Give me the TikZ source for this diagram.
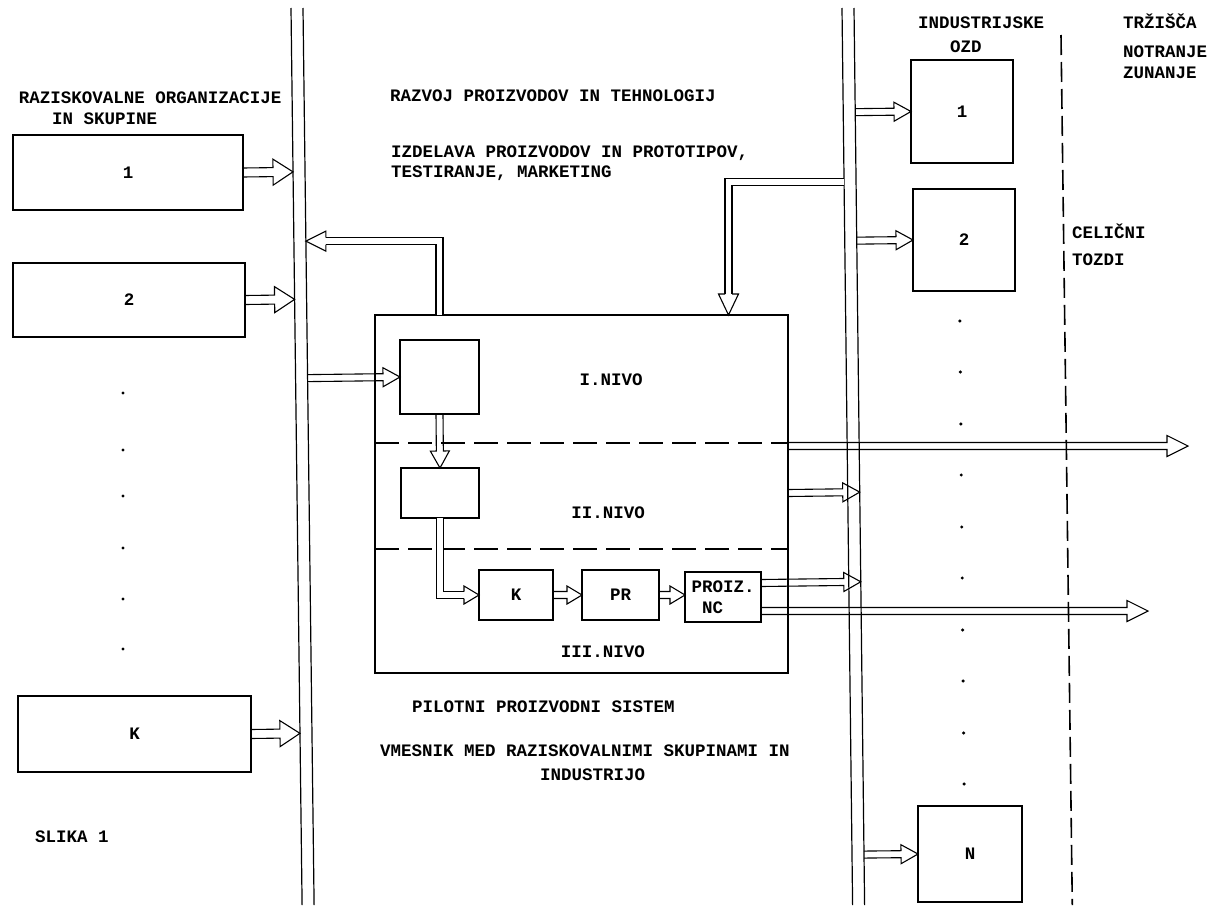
\documentclass[tikz,border=0pt]{standalone}
\usepackage{fontspec}
\setmainfont{Liberation Mono}
\usetikzlibrary{calc}
\newcommand\twf{\fontsize{17.5pt}{21pt}\selectfont\bfseries}
\begin{document}
\begin{tikzpicture}[x=1pt,y=-1pt,
  box/.style={draw, line width=1.5pt, inner sep=0pt, outer sep=0pt, font=\twf, align=center},
  rail/.style={line width=1.2pt},
  vdash/.style={line width=1.6pt, dash pattern=on 20pt off 7pt},
  lvl/.style={line width=1.3pt, dash pattern=on 24pt off 9pt},
  txt/.style={inner sep=0pt, outer sep=0pt, anchor=base west, font=\twf},
  ctxt/.style={inner sep=0pt, outer sep=0pt, anchor=base, font=\twf},
  aline/.style={line width=1.1pt, line join=miter},
  dbl/.style={line width=1.1pt, double=white, double distance=5.9pt},
  blk/.style n args={3}{line width=1.1pt, to path={
     ($(\tikztostart)!#1!90:(\tikztotarget)$)
     -- ($(\tikztotarget)!#3!(\tikztostart)!#1!90:(\tikztotarget)$)
     -- ($(\tikztotarget)!#3!(\tikztostart)!#2!90:(\tikztotarget)$)
     -- (\tikztotarget)
     -- ($(\tikztotarget)!#3!(\tikztostart)!#2!-90:(\tikztotarget)$)
     -- ($(\tikztotarget)!#3!(\tikztostart)!#1!-90:(\tikztotarget)$)
     -- ($(\tikztostart)!#1!-90:(\tikztotarget)$)
  }},
  bigar/.style={blk={4.5pt}{13pt}{20pt}},
  smar/.style={blk={3.5pt}{9.5pt}{17pt}},
  shar/.style={blk={3.5pt}{9pt}{15pt}},
  lgar/.style={blk={3.5pt}{10.5pt}{21pt}},
]
\path[use as bounding box, fill=white] (0,0) rectangle (1210,905);

% rails
\coordinate (LLt) at (291,8);   \coordinate (LLb) at (302.1,905);
\coordinate (LRt) at (303,8);   \coordinate (LRb) at (314.1,905);
\coordinate (RLt) at (842,8);   \coordinate (RLb) at (852.6,905);
\coordinate (RRt) at (854,8);   \coordinate (RRb) at (864.6,905);
\coordinate (Dt) at (1061,35);  \coordinate (Db) at (1072.3,905);
\draw[rail] (LLt) -- (LLb);
\draw[rail] (LRt) -- (LRb);
\draw[rail] (RLt) -- (RLb);
\draw[rail] (RRt) -- (RRb);
\draw[vdash] (Dt) -- (Db);

% left boxes
\node[box, minimum width=230pt, minimum height=75pt] (l1) at (128,172.5) {1};
\node[box, minimum width=232pt, minimum height=74pt] (l2) at (129,300) {2};
\node[box, minimum width=233pt, minimum height=76pt] (lk) at (134.5,734) {K};

% right boxes
\node[box, minimum width=102pt, minimum height=103pt] (r1) at (962,111.5) {1};
\node[box, minimum width=102pt, minimum height=102pt] (r2) at (964,240) {2};
\node[box, minimum width=104pt, minimum height=96pt] (rn) at (970,854) {N};

% pilot system
\node[box, minimum width=413pt, minimum height=358pt] (pps) at (581.5,494) {};
\node[box, minimum width=79pt, minimum height=74pt] (bI) at (439.5,377) {};
\node[box, minimum width=78pt, minimum height=50pt] (bII) at (440,493) {};
\node[box, minimum width=74pt, minimum height=50pt] (bK) at (516,595) {\raisebox{-7pt}{K}};
\node[box, minimum width=77pt, minimum height=50pt] (bPR) at (620.5,595) {\raisebox{-7pt}{PR}};
\node[box, minimum width=76pt, minimum height=50pt, align=left] (bPZ) at (723,597) {PROIZ.\\~NC};
\draw[lvl] ($(pps.north west)+(0,128)$) -- ($(pps.north east)+(0,128)$);
\draw[lvl] ($(pps.north west)+(0,234)$) -- ($(pps.north east)+(0,234)$);
\node[ctxt] (n1) at (611,385.5) {I.NIVO};
\node[ctxt] (n2) at (608,518) {II.NIVO};
\node[ctxt] (n3) at (603,657) {III.NIVO};

% texts
\node[txt] (t1) at (19,103) {RAZISKOVALNE ORGANIZACIJE};
\node[txt] (t2) at (52,124.5) {IN SKUPINE};
\node[txt] (t3) at (390,101.5) {RAZVOJ PROIZVODOV IN TEHNOLOGIJ};
\node[txt] (t4) at (391,157.5) {IZDELAVA PROIZVODOV IN PROTOTIPOV,};
\node[txt] (t5) at (391,177.5) {TESTIRANJE, MARKETING};
\node[txt] (t6) at (918,28) {INDUSTRIJSKE};
\node[txt] (t7) at (950,52) {OZD};
\node[txt] (t8) at (1123,28) {TRŽIŠČA};
\node[txt] (t9) at (1123,57) {NOTRANJE};
\node[txt] (t10) at (1123,78) {ZUNANJE};
\node[txt] (t11) at (1072,238) {CELIČNI};
\node[txt] (t12) at (1072,265) {TOZDI};
\node[txt] (t13) at (412,712) {PILOTNI PROIZVODNI SISTEM};
\node[txt] (t14) at (380,756) {VMESNIK MED RAZISKOVALNIMI SKUPINAMI IN};
\node[txt] (t15) at (540,780) {INDUSTRIJO};
\node[txt] (t16) at (35,842) {SLIKA 1};

% dots
\foreach \y in {393,450,496,548,599,649} \fill (123,\y) circle (1.7);
\foreach \y in {321,372,424,475,527,578,630,681,733,784} \fill ({957+0.009*\y},\y) circle (1.7);

% arrows from left boxes to left rail
\coordinate (a1t) at ($(LLt)!(l1.east)!(LLb)$);
\coordinate (a2t) at ($(LLt)!(l2.east)!(LLb)$);
\coordinate (a3t) at ($(LLt)!(lk.east)!(LLb)$);
\draw[bigar] (l1.east) to (a1t);
\draw[bigar] (l2.east) to (a2t);
\draw[bigar] (lk.east) to (a3t);

% left rail to box I
\coordinate (a4s) at ($(LRt)!(bI.west)!(LRb)$);
\draw[smar] (a4s) to (bI.west);

% box I up and back to left rail
\coordinate (b5y) at (400,240);
\coordinate (b5t) at ($(LRt)!(b5y)!(LRb)$);
\coordinate (b5h) at ($(b5t)+(20,0)$);
\coordinate (b5s) at (bI.north |- pps.north);
\draw[dbl] (b5s) |- (b5h);
\draw[aline] ($(b5h)+(0,-3.5)$) -- ($(b5h)+(0,-10)$) -- (b5t) -- ($(b5h)+(0,10)$) -- ($(b5h)+(0,3.5)$);

% right rail into pilot system
\coordinate (b6x) at (728.5,183.5);
\coordinate (b6s) at ($(RLt)!(b6x)!(RLb)$);
\coordinate (b6t) at (b6x |- pps.north);
\coordinate (b6h) at ($(b6t)+(0,-21)$);
\draw[dbl] (b6s) -| (b6h);
\draw[aline] ($(b6h)+(-3.5,0)$) -- ($(b6h)+(-10,0)$) -- (b6t) -- ($(b6h)+(10,0)$) -- ($(b6h)+(3.5,0)$);

% inner flow
\draw[smar] (bI.south) to (bII.north);
\coordinate (b8h) at ($(bK.west)+(-15,0)$);
\draw[dbl] (bII.south) |- (b8h);
\draw[aline] ($(b8h)+(0,-3.5)$) -- ($(b8h)+(0,-9)$) -- (bK.west) -- ($(b8h)+(0,9)$) -- ($(b8h)+(0,3.5)$);
\draw[shar] (bK.east) to (bPR.west);
\coordinate (a10t) at (bPZ.west |- bPR.east);
\draw[shar] (bPR.east) to (a10t);

% outputs to the right
\coordinate (a11s) at ($(bPZ.east)+(0,-14)$);
\coordinate (a11t) at ($(RRt)!(a11s)!(RRb)$);
\draw[smar] (a11s) to (a11t);
\coordinate (a12s) at ($(bPZ.east)+(0,14)$);
\coordinate (a12t) at ($(a12s)+(387,0)$);
\draw[lgar] (a12s) to (a12t);
\coordinate (a13s) at (pps.east |- bII.east);
\coordinate (a13t) at ($(RRt)!(a13s)!(RRb)$);
\draw[smar] (a13s) to (a13t);
\coordinate (a14s) at ($(pps.north east)+(0,131)$);
\coordinate (a14t) at ($(a14s)+(400,0)$);
\draw[lgar] (a14s) to (a14t);

% right rail to industrial boxes
\coordinate (a15s) at ($(RRt)!(r1.west)!(RRb)$);
\coordinate (a16s) at ($(RRt)!(r2.west)!(RRb)$);
\coordinate (a17s) at ($(RRt)!(rn.west)!(RRb)$);
\draw[smar] (a15s) to (r1.west);
\draw[smar] (a16s) to (r2.west);
\draw[smar] (a17s) to (rn.west);
\end{tikzpicture}
\end{document}
